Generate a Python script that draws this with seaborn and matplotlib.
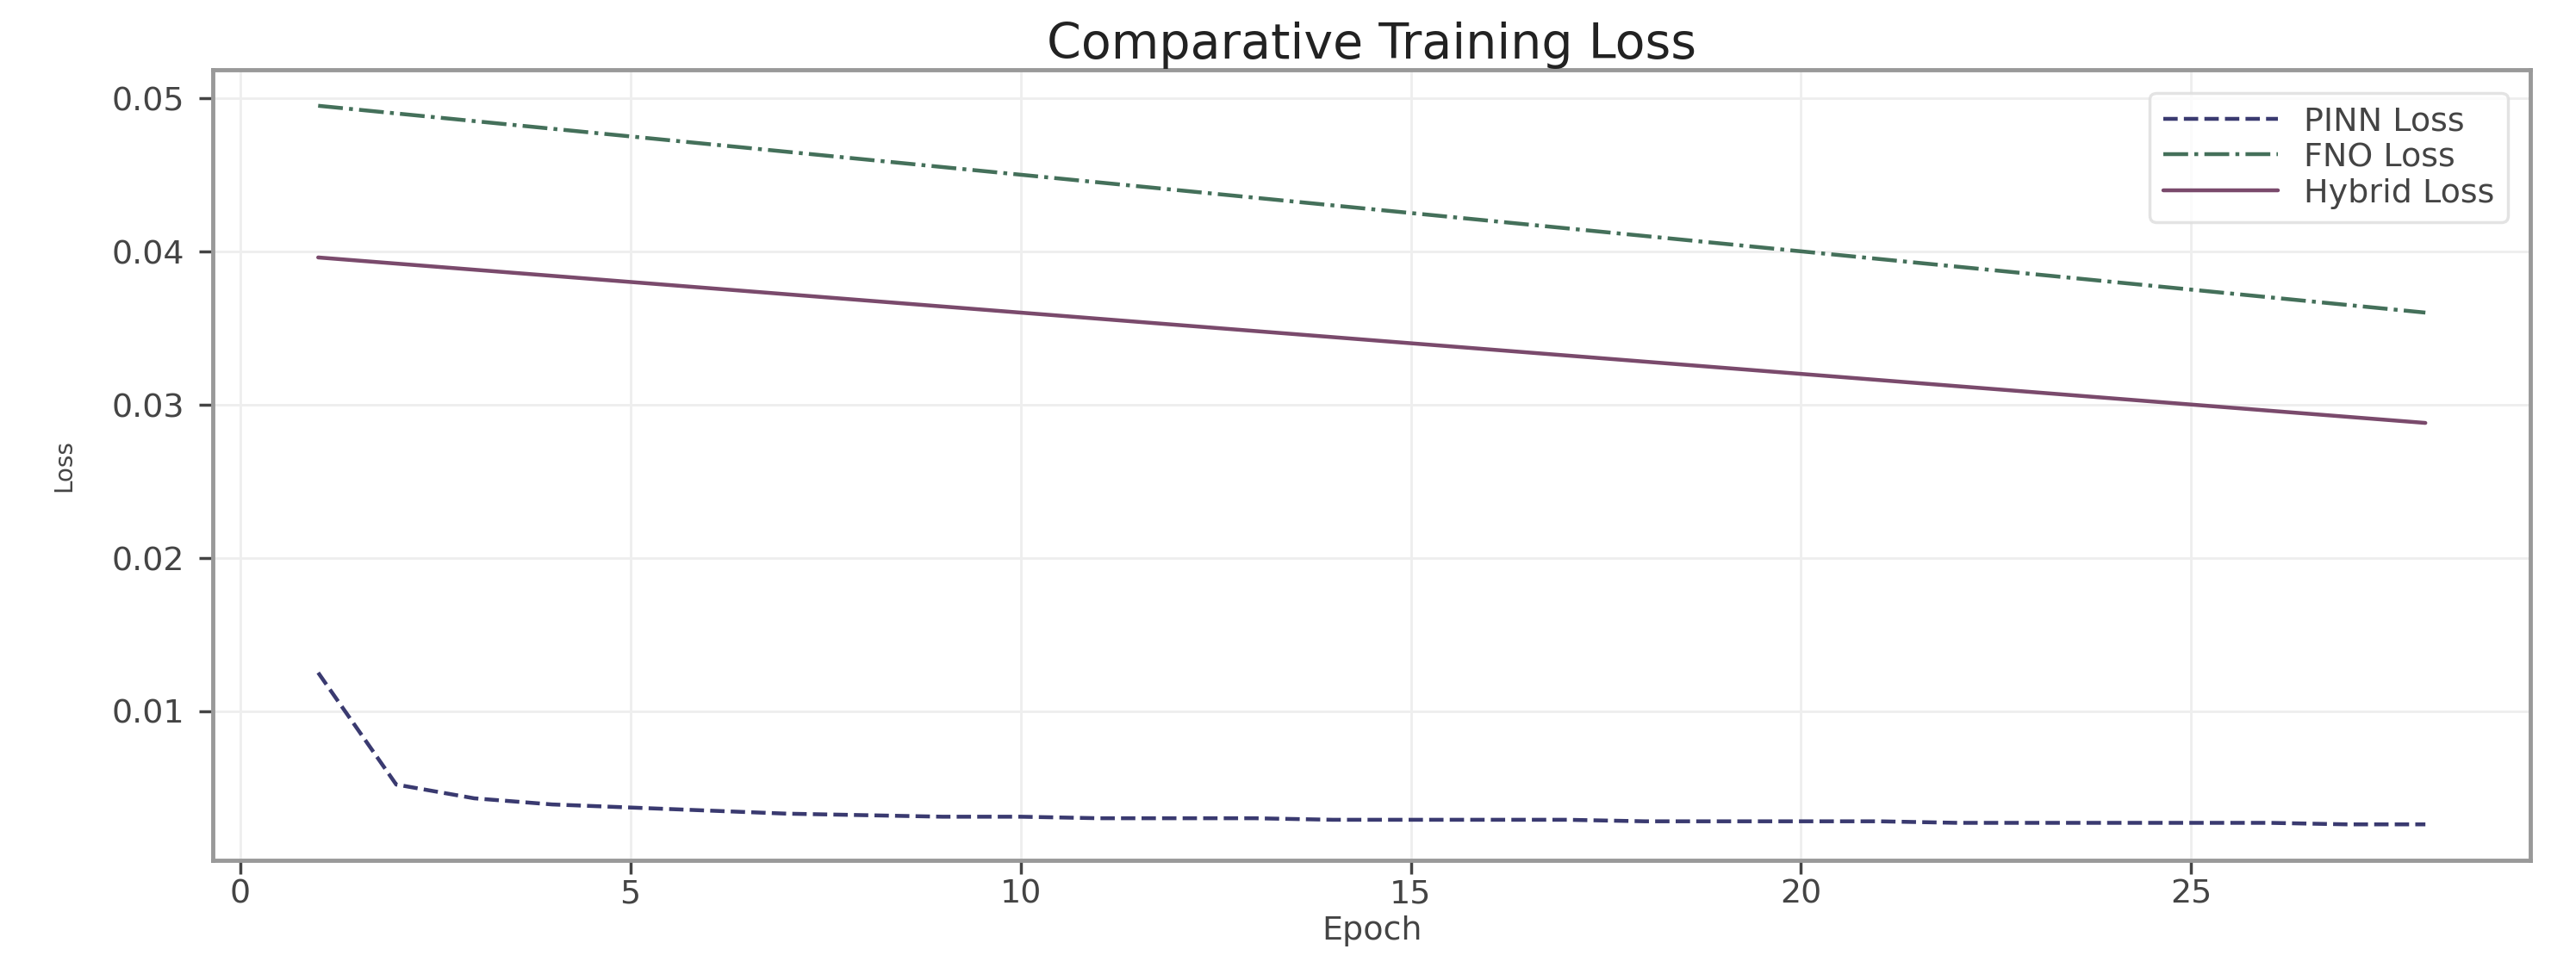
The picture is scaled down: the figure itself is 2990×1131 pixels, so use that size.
import matplotlib
matplotlib.use("Agg")
import matplotlib.pyplot as plt
import seaborn as sns
import pandas as pd

epochs = list(range(1, 29))

pinn_loss = [0.0125, 0.0052, 0.0043, 0.0039, 0.0037, 0.0035, 0.0033, 0.0032,
             0.0031, 0.0031, 0.0030, 0.0030, 0.0030, 0.0029, 0.0029, 0.0029,
             0.0029, 0.0028, 0.0028, 0.0028, 0.0028, 0.0027, 0.0027, 0.0027,
             0.0027, 0.0027, 0.0026, 0.0026]

fno_loss = [0.0495, 0.0490, 0.0485, 0.0480, 0.0475, 0.0470, 0.0465, 0.0460,
            0.0455, 0.0450, 0.0445, 0.0440, 0.0435, 0.0430, 0.0425, 0.0420,
            0.0415, 0.0410, 0.0405, 0.0400, 0.0395, 0.0390, 0.0385, 0.0380,
            0.0375, 0.0370, 0.0365, 0.0360]

hybrid_loss = [0.0396, 0.0392, 0.0388, 0.0384, 0.0380, 0.0376, 0.0372, 0.0368,
               0.0364, 0.0360, 0.0356, 0.0352, 0.0348, 0.0344, 0.0340, 0.0336,
               0.0332, 0.0328, 0.0324, 0.0320, 0.0316, 0.0312, 0.0308, 0.0304,
               0.0300, 0.0296, 0.0292, 0.0288]

sns.set_style("whitegrid")
plt.rcParams['font.family'] = ['DejaVu Sans']

fig = plt.figure(figsize=(12, 4.54), dpi=249.2)
ax = fig.add_axes([0.0826, 0.1167, 0.8997, 0.8113])

df = pd.DataFrame({"Epoch": epochs, "PINN": pinn_loss, "FNO": fno_loss, "Hybrid": hybrid_loss})

sns.lineplot(data=df, x="Epoch", y="PINN", ax=ax, color='#3a3a70', linestyle='--',
             linewidth=1.3, label='PINN Loss')
sns.lineplot(data=df, x="Epoch", y="FNO", ax=ax, color='#44705a', linestyle='-.',
             linewidth=1.3, label='FNO Loss')
sns.lineplot(data=df, x="Epoch", y="Hybrid", ax=ax, color='#7a4a6c', linestyle='-',
             linewidth=1.3, label='Hybrid Loss')

ax.set_title("Comparative Training Loss", fontsize=16.5, color='#222222', pad=4)
ax.set_xlabel("Epoch", fontsize=11, color='#444444', labelpad=2)
ax.set_ylabel("Loss", fontsize=8, color='#444444', labelpad=12)
ax.tick_params(axis='both', labelsize=11, colors='#444444', length=4.5, width=1,
               left=True, bottom=True)
ax.tick_params(axis='x', pad=1.5)
ax.tick_params(axis='y', pad=5)
ax.grid(True, color='#eeeeee', linewidth=0.8)
for s in ax.spines.values():
    s.set_color('#999999')
    s.set_linewidth(1.4)

leg = ax.legend(loc='upper right', fontsize=11, frameon=True, labelspacing=0.15,
                handlelength=3.5, borderpad=0.4, borderaxespad=0.7)
leg.get_frame().set_edgecolor('#dddddd')
for t in leg.get_texts():
    t.set_color('#444444')

fig.savefig("out.png", dpi=249.2)
